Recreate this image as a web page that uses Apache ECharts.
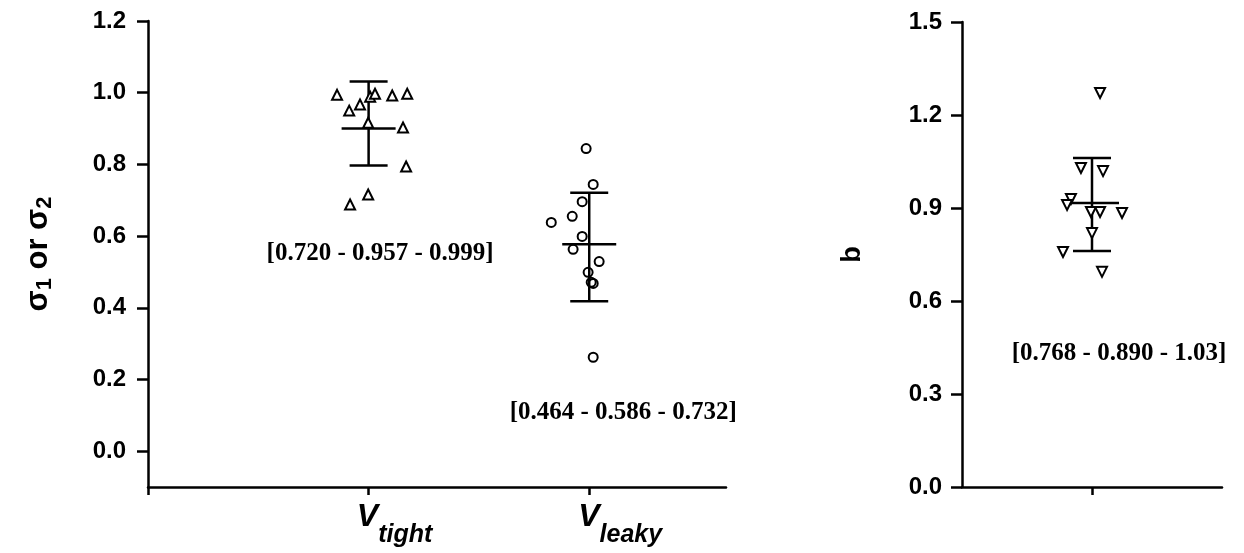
<!DOCTYPE html>
<html>
<head>
<meta charset="utf-8">
<script src="https://cdn.jsdelivr.net/npm/echarts@6/dist/echarts.min.js"></script>
<style>
  html, body { margin: 0; padding: 0; background: #fff; }
  #chart { width: 1244px; height: 553px; }
</style>
</head>
<body>
<div id="chart"></div>
<script>
// tick labels
var leftTicks = [0, 0.2, 0.4, 0.6, 0.8, 1.0, 1.2];
var rightTicks = [0, 0.3, 0.6, 0.9, 1.2, 1.5];
var groupNames = ['tight', 'leaky'];

// V_tight points (x = jitter around 1)
var tightX = [0.857, 1.007, 1.029, 1.107, 1.175, 0.912, 0.961, 0.998, 1.156, 1.170, 0.998, 0.916];
var tightY = [0.994, 0.989, 0.997, 0.992, 0.997, 0.950, 0.967, 0.916, 0.903, 0.794, 0.716, 0.688];
// V_leaky points (x = jitter around 2)
var leakyX = [1.986, 2.018, 1.968, 1.923, 1.828, 1.968, 1.927, 2.045, 1.995, 2.009, 2.018, 2.018];
var leakyY = [0.844, 0.744, 0.696, 0.655, 0.638, 0.599, 0.563, 0.529, 0.499, 0.471, 0.468, 0.262];
// b points (x = jitter around 1)
var bX = [1.062, 0.915, 1.085, 0.838, 0.808, 0.992, 1.062, 1.231, 1.000, 0.777, 1.077];
var bY = [1.271, 1.029, 1.019, 0.929, 0.910, 0.887, 0.887, 0.884, 0.819, 0.758, 0.694];

// mean and SD: [x, mean, low, high]
var leftStats = [[1, 0.900, 0.797, 1.031], [2, 0.577, 0.418, 0.721]];
var rightStats = [[1, 0.916, 0.761, 1.061]];

var notes = ['[0.720 - 0.957 - 0.999]', '[0.464 - 0.586 - 0.732]', '[0.768 - 0.890 - 1.03]'];

function pairs(xs, ys) {
  return xs.map(function (x, i) { return [x, ys[i]]; });
}

var tickFont = { fontFamily: 'Liberation Sans, Arial', fontWeight: 'bold', fontSize: 24, color: '#000' };
var axisLine = { onZero: false, lineStyle: { color: '#000', width: 2.5 } };
var tickStyle = { color: '#000', width: 2.5 };
var noteFont = { fontFamily: 'Liberation Serif, Times New Roman', fontWeight: 'bold', fontSize: 25, color: '#000' };

function errorBars(params, api) {
  var x = api.value(0);
  var pm = api.coord([x, api.value(1)]);
  var pl = api.coord([x, api.value(2)]);
  var ph = api.coord([x, api.value(3)]);
  var st = { stroke: '#000', lineWidth: 2.5 };
  var cap = 19, mcap = 27;
  return {
    type: 'group',
    children: [
      { type: 'line', shape: { x1: ph[0], y1: ph[1], x2: pl[0], y2: pl[1] }, style: st },
      { type: 'line', shape: { x1: ph[0] - cap, y1: ph[1], x2: ph[0] + cap, y2: ph[1] }, style: st },
      { type: 'line', shape: { x1: pl[0] - cap, y1: pl[1], x2: pl[0] + cap, y2: pl[1] }, style: st },
      { type: 'line', shape: { x1: pm[0] - mcap, y1: pm[1], x2: pm[0] + mcap, y2: pm[1] }, style: st }
    ]
  };
}

var chart = echarts.init(document.getElementById('chart'));
chart.setOption({
  backgroundColor: '#fff',
  animation: false,
  grid: [
    { left: 148, right: 518, top: 21, bottom: 66 },
    { left: 962, right: 22, top: 22, bottom: 66 }
  ],
  xAxis: [
    {
      gridIndex: 0, type: 'value', min: 0, max: 2.62,
      splitLine: { show: false },
      axisLine: axisLine,
      axisTick: { customValues: [0, 1, 2], length: 8, lineStyle: tickStyle },
      axisLabel: {
        customValues: [1, 2],
        margin: 14,
        formatter: function (v) {
          var name = groupNames[Math.round(v) - 1];
          return '{sp' + (v < 1.5 ? 'a' : 'b') + '| }{v|V}{s|' + name + '}';
        },
        rich: {
          spa: { width: 52 },
          spb: { width: 62 },
          v: { fontFamily: 'Liberation Sans, Arial', fontWeight: 'bold', fontStyle: 'italic', fontSize: 32, color: '#000', verticalAlign: 'top' },
          s: { fontFamily: 'Liberation Sans, Arial', fontWeight: 'bold', fontStyle: 'italic', fontSize: 25, color: '#000', padding: [22, 0, 0, 0] }
        }
      }
    },
    {
      gridIndex: 1, type: 'value', min: 0, max: 2,
      splitLine: { show: false },
      axisLine: axisLine,
      axisTick: { customValues: [1], length: 8, lineStyle: tickStyle },
      axisLabel: { show: false }
    }
  ],
  yAxis: [
    {
      gridIndex: 0, type: 'value', min: -0.1, max: 1.2,
      splitLine: { show: false },
      axisLine: axisLine,
      axisTick: { customValues: leftTicks, length: 11, lineStyle: tickStyle },
      axisLabel: Object.assign({ customValues: leftTicks, margin: 22, formatter: function (v) { return v.toFixed(1); } }, tickFont),
      name: '{m|σ}{s|1}{m| or σ}{s|2}',
      nameLocation: 'middle',
      nameRotate: 90,
      nameGap: 92,
      nameTextStyle: {
        rich: {
          m: { fontFamily: 'Liberation Sans, Arial', fontWeight: 'bold', fontSize: 31, color: '#000' },
          s: { fontFamily: 'Liberation Sans, Arial', fontWeight: 'bold', fontSize: 22, color: '#000', padding: [14, 0, 0, 0] }
        }
      }
    },
    {
      gridIndex: 1, type: 'value', min: 0, max: 1.5, interval: 0.3,
      splitLine: { show: false },
      axisLine: axisLine,
      axisTick: { length: 11, lineStyle: tickStyle },
      axisLabel: Object.assign({ margin: 20, formatter: function (v) { return v.toFixed(1); } }, tickFont),
      name: 'b',
      nameLocation: 'middle',
      nameRotate: 90,
      nameGap: 96,
      nameTextStyle: { fontFamily: 'Liberation Sans, Arial', fontWeight: 'bold', fontSize: 27, color: '#000' }
    }
  ],
  series: [
    {
      type: 'custom', xAxisIndex: 0, yAxisIndex: 0,
      renderItem: errorBars, data: leftStats, z: 3
    },
    {
      type: 'custom', xAxisIndex: 1, yAxisIndex: 1,
      renderItem: errorBars, data: rightStats, z: 3
    },
    {
      type: 'scatter', xAxisIndex: 0, yAxisIndex: 0,
      symbol: 'triangle', symbolSize: 10,
      itemStyle: { color: '#fff', borderColor: '#000', borderWidth: 2, opacity: 1 },
      data: pairs(tightX, tightY), z: 4
    },
    {
      type: 'scatter', xAxisIndex: 0, yAxisIndex: 0,
      symbol: 'circle', symbolSize: 9,
      itemStyle: { color: 'transparent', borderColor: '#000', borderWidth: 2, opacity: 1 },
      data: pairs(leakyX, leakyY), z: 4
    },
    {
      type: 'scatter', xAxisIndex: 1, yAxisIndex: 1,
      symbol: 'triangle', symbolRotate: 180, symbolSize: 10,
      itemStyle: { color: '#fff', borderColor: '#000', borderWidth: 2, opacity: 1 },
      data: pairs(bX, bY), z: 4
    },
    {
      type: 'scatter', xAxisIndex: 0, yAxisIndex: 0,
      symbolSize: 0, silent: true, clip: false,
      itemStyle: { opacity: 1 },
      label: Object.assign({ show: true, position: 'inside', formatter: function (p) { return notes[p.dataIndex]; } }, noteFont),
      data: [[1.052, 0.55], [2.154, 0.109]]
    },
    {
      type: 'scatter', xAxisIndex: 1, yAxisIndex: 1,
      symbolSize: 0, silent: true, clip: false,
      itemStyle: { opacity: 1 },
      label: Object.assign({ show: true, position: 'inside', formatter: function () { return notes[2]; } }, noteFont),
      data: [[1.208, 0.432]]
    }
  ]
});
</script>
</body>
</html>
